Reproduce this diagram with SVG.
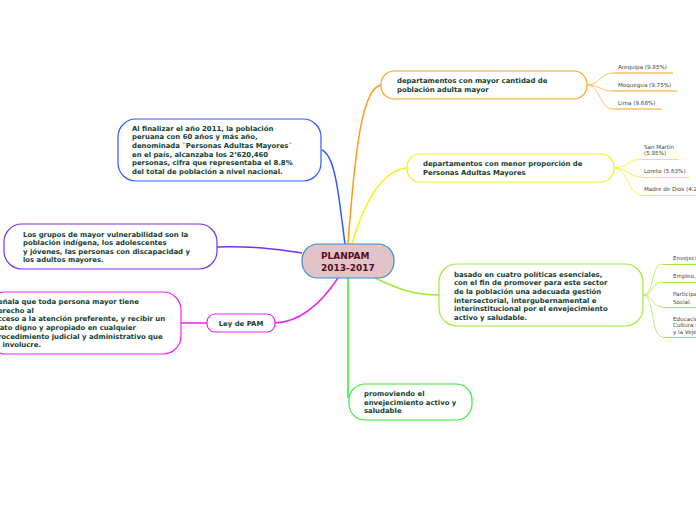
<svg xmlns="http://www.w3.org/2000/svg" width="696" height="520" viewBox="0 0 696 520">
<style>
.t{font-family:"DejaVu Sans",Verdana,sans-serif;font-weight:bold;font-size:6.9px;fill:#12402f}
.s{font-family:"DejaVu Sans",Verdana,sans-serif;font-size:5.6px;fill:#444}
.n{fill:#fff;stroke-width:1.2}
.c{fill:none;stroke-width:1.5}
.b{fill:none;stroke-width:1}
</style>
<rect width="696" height="520" fill="#fff"/>
<g id="connectors">
<path class="c" stroke="#2a5cff" d="M345,244 C339,200 336,156 322,150"/>
<path class="c" stroke="#ff9a1a" d="M348,244 C355,150 362,88 381,85"/>
<path class="c" stroke="#f2f21a" d="M352,244 C366,196 384,170 407,168"/>
<path class="c" stroke="#7a2ff0" d="M217,247 C260,246 282,250 302,253"/>
<path class="c" stroke="#ee22ee" d="M338,278 C320,305 300,322 275,323"/>
<path class="c" stroke="#ee22ee" d="M181,323 L207,323"/>
<path class="c" stroke="#99ee33" d="M375,278 C400,290 415,295 439,295"/>
<path class="c" stroke="#33ee33" d="M348,278 L348,398"/>
<g stroke="#ffc070">
<path class="b" d="M587,85 C600,85 600,73 613,73"/>
<path class="b" d="M587,85 C600,85 600,91 613,91"/>
<path class="b" d="M587,85 C600,85 600,109 613,109"/>
</g>
<g stroke="#f5f540">
<path class="b" d="M614,168 C628,168 628,159 642,159"/>
<path class="b" d="M614,168 C628,168 628,177 642,177"/>
<path class="b" d="M614,168 C628,168 628,195 642,195"/>
</g>
<g stroke="#b8f070">
<path class="b" d="M643,295 C655,295 650,264 663,264"/>
<path class="b" d="M643,295 C655,295 650,282 663,282"/>
<path class="b" d="M643,295 C655,295 650,307 663,307"/>
<path class="b" d="M643,295 C655,295 650,337 663,337"/>
</g>
</g>
<g id="center">
<rect x="302" y="244" width="92" height="34" rx="16" fill="#e2c4c8" stroke="#3a8ad0" stroke-width="1.2"/>
<text class="t" style="font-size:9px;fill:#5a0a1e" x="321" y="259">PLANPAM</text>
<text class="t" style="font-size:9px;fill:#5a0a1e" x="321" y="271">2013-2017</text>
</g>
<g id="n-poblacion">
<rect class="n" x="118" y="119" width="203" height="62" rx="18" stroke="#2a5cff"/>
<text class="t" x="132" y="130.5">Al finalizar el año 2011, la población</text>
<text class="t" x="132" y="139.3">peruana con 60 años y más año,</text>
<text class="t" x="132" y="148">denominada ¨Personas Adultas Mayores¨</text>
<text class="t" x="132" y="156.7">en el país, alcanzaba los 2’620,460</text>
<text class="t" x="132" y="165.4">personas, cifra que representaba el 8.8%</text>
<text class="t" x="132" y="174.2">del total de población a nivel nacional.</text>
</g>
<g id="n-vulnerabilidad">
<rect class="n" x="4" y="224" width="213" height="45" rx="18" stroke="#7a2ff0"/>
<text class="t" x="23" y="236.5">Los grupos de mayor vulnerabilidad son la</text>
<text class="t" x="23" y="245">población indígena, los adolescentes</text>
<text class="t" x="23" y="253.5">y jóvenes, las personas con discapacidad y</text>
<text class="t" x="23" y="262">los adultos mayores.</text>
</g>
<g id="n-senala">
<rect class="n" x="-12" y="292" width="193" height="62" rx="18" stroke="#ee22ee"/>
<text class="t" x="-7" y="304">Señala que toda persona mayor tiene</text>
<text class="t" x="-7" y="312.7">derecho al</text>
<text class="t" x="-7" y="321.4">acceso a la atención preferente, y recibir un</text>
<text class="t" x="-7" y="330">trato digno y apropiado en cualquier</text>
<text class="t" x="-7" y="338.7">procedimiento judicial y administrativo que</text>
<text class="t" x="-7" y="347.4">lo involucre.</text>
</g>
<g id="n-ley">
<rect class="n" x="207" y="314" width="68" height="18" rx="8" stroke="#ee22ee"/>
<text class="t" x="241" y="325.5" text-anchor="middle">Ley de PAM</text>
</g>
<g id="n-mayor">
<rect class="n" x="381" y="71" width="206" height="28" rx="13" stroke="#ffa020"/>
<text class="t" x="397" y="82.5">departamentos con mayor cantidad de</text>
<text class="t" x="397" y="91.5">población adulta mayor</text>
</g>
<g id="s-mayor">
<text class="s" x="618" y="69">Arequipa (9.85%)</text>
<path d="M613,73 H673" stroke="#ffa020" stroke-width="1.2"/>
<text class="s" x="618" y="87">Moquegua (9.75%)</text>
<path d="M613,91 H677" stroke="#ffa020" stroke-width="1.2"/>
<text class="s" x="618" y="105">Lima (9.68%)</text>
<path d="M613,109 H662" stroke="#ffa020" stroke-width="1.2"/>
</g>
<g id="n-menor">
<rect class="n" x="407" y="154" width="207" height="28" rx="13" stroke="#f2f21a"/>
<text class="t" x="423" y="166">departamentos con menor proporción de</text>
<text class="t" x="423" y="175">Personas Adultas Mayores</text>
</g>
<g id="s-menor">
<text class="s" x="644" y="148.5">San Martín</text>
<text class="s" x="644" y="155">(5.95%)</text>
<path d="M642,159.5 H679" stroke="#f2f21a" stroke-width="1.2"/>
<text class="s" x="644" y="173">Loreto (5.63%)</text>
<path d="M642,177.5 H689" stroke="#f2f21a" stroke-width="1.2"/>
<text class="s" x="644" y="190.5">Madre de Dios (4.2%)</text>
<path d="M642,195.5 H696" stroke="#f2f21a" stroke-width="1.2"/>
</g>
<g id="n-politicas">
<rect class="n" x="439" y="264" width="204" height="62" rx="18" stroke="#99ee33"/>
<text class="t" x="454" y="276.5">basado en cuatro políticas esenciales,</text>
<text class="t" x="454" y="285.2">con el fin de promover para este sector</text>
<text class="t" x="454" y="293.9">de la población una adecuada gestión</text>
<text class="t" x="454" y="302.6">intersectorial, intergubernamental e</text>
<text class="t" x="454" y="311.3">interinstitucional por el envejecimiento</text>
<text class="t" x="454" y="320">activo y saludable.</text>
</g>
<g id="s-politicas">
<text class="s" x="673" y="259.5">Envejecimiento Saludable</text>
<path d="M663,264.5 H696" stroke="#99ee33" stroke-width="1.2"/>
<text class="s" x="673" y="278">Empleo, Previsión y Seguridad Social</text>
<path d="M663,282.5 H696" stroke="#99ee33" stroke-width="1.2"/>
<text class="s" x="673" y="295.5">Participación e Integración</text>
<text class="s" x="673" y="303.5">Social.</text>
<path d="M663,307.5 H696" stroke="#99ee33" stroke-width="1.2"/>
<text class="s" x="673" y="321">Educación, Conciencia y</text>
<text class="s" x="673" y="327.3">Cultura sobre el Envejecimiento</text>
<text class="s" x="673" y="333.5">y la Vejez</text>
<path d="M663,337.5 H696" stroke="#99ee33" stroke-width="1.2"/>
</g>
<g id="n-activo">
<rect class="n" x="349" y="384" width="123" height="36" rx="16" stroke="#33ee33"/>
<text class="t" x="364" y="396">promoviendo el</text>
<text class="t" x="364" y="404.7">envejecimiento activo y</text>
<text class="t" x="364" y="413.4">saludable</text>
</g>
</svg>
